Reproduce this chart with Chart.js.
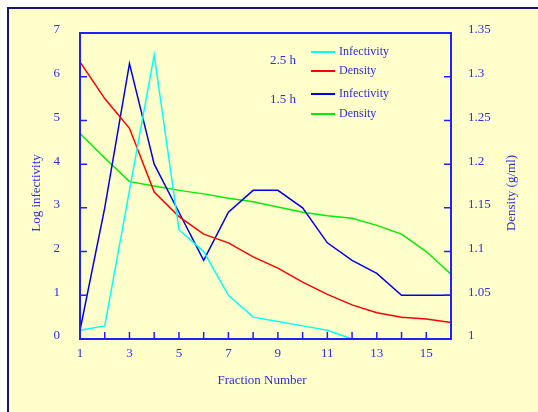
<!DOCTYPE html>
<html>
<head>
<meta charset="utf-8">
<script src="https://cdn.jsdelivr.net/npm/chart.js@4.4.1/dist/chart.umd.min.js"></script>
<style>
  html, body { margin: 0; padding: 0; background: #ffffff; overflow: hidden; }
  #frame {
    position: absolute; left: 7px; top: 7px; width: 560px; height: 440px;
    border-left: 2px solid #14147a; border-top: 2px solid #14147a;
    background: #ffffcc;
  }
  #wrap { position: absolute; left: 0; top: 0; width: 538px; height: 412px; }
</style>
</head>
<body>
<div id="frame"></div>
<div id="wrap"><canvas id="chart"></canvas></div>
<script>
const fractions = [1, 2, 3, 4, 5, 6, 7, 8, 9, 10, 11, 12, 13, 14, 15, 16]

// log infectivity (left axis)
const infectivity25 = [0.2, 0.3, 3.4, 6.5, 2.5, 2.0, 1.0, 0.5, 0.4, 0.3, 0.2, 0, 0, 0, 0, 0]
const infectivity15 = [0.2, 3.0, 6.3, 4.0, 2.9, 1.8, 2.9, 3.4, 3.4, 3.0, 2.2, 1.8, 1.5, 1.0, 1.0, 1.0]

// density g/ml (right axis)
const density25 = [1.317, 1.275, 1.241, 1.168, 1.14, 1.12, 1.11, 1.094, 1.081, 1.065, 1.051, 1.039, 1.03, 1.025, 1.023, 1.019]
const density15 = [1.235, 1.207, 1.18, 1.175, 1.17, 1.166, 1.161, 1.157, 1.151, 1.145, 1.141, 1.138, 1.13, 1.12, 1.1, 1.074]

const groupLabels = ['2.5 h', '1.5 h']
const xTitle = 'Fraction Number'
const yTitle = 'Log infectivity'
const y1Title = 'Density (g/ml)'

const textColor = '#2e2ee6'
const axisColor = '#2020ff'
const serif = "'Liberation Serif', 'Times New Roman', serif"

// ticks inside, frame, titles and the grouped legend
const decorPlugin = {
  id: 'decor',
  afterDatasetsDraw(chart) {
    const { ctx, chartArea: a, scales } = chart
    ctx.save()
    ctx.strokeStyle = axisColor
    ctx.lineWidth = 2
    ctx.strokeRect(a.left, a.top, a.right - a.left, a.bottom - a.top)

    ctx.lineWidth = 1.5
    ctx.beginPath()
    scales.x.ticks.forEach(t => {
      const px = scales.x.getPixelForValue(t.value)
      ctx.moveTo(px, a.bottom); ctx.lineTo(px, a.bottom - 7)
    })
    scales.y.ticks.forEach(t => {
      const py = scales.y.getPixelForValue(t.value)
      ctx.moveTo(a.left, py); ctx.lineTo(a.left + 7, py)
    })
    scales.y1.ticks.forEach(t => {
      const py = scales.y1.getPixelForValue(t.value)
      ctx.moveTo(a.right, py); ctx.lineTo(a.right - 7, py)
    })
    ctx.stroke()

    // axis titles
    ctx.fillStyle = textColor
    ctx.font = '13px ' + serif
    ctx.textAlign = 'center'
    ctx.textBaseline = 'middle'
    ctx.fillText(xTitle, 262, 381)
    ctx.save()
    ctx.translate(37, 193); ctx.rotate(-Math.PI / 2)
    ctx.fillText(yTitle, 0, 0)
    ctx.restore()
    ctx.save()
    ctx.translate(512, 193); ctx.rotate(-Math.PI / 2)
    ctx.fillText(y1Title, 0, 0)
    ctx.restore()

    // legend
    const rows = [52, 71, 94, 114]
    ctx.textAlign = 'left'
    ctx.font = '12px ' + serif
    chart.data.datasets.forEach((ds, i) => {
      ctx.strokeStyle = ds.borderColor
      ctx.lineWidth = 2
      ctx.beginPath()
      ctx.moveTo(311, rows[i]); ctx.lineTo(335, rows[i])
      ctx.stroke()
      ctx.fillText(ds.label, 339, rows[i])
    })
    ctx.font = '13px ' + serif
    ctx.textAlign = 'right'
    ctx.fillText(groupLabels[0], 296, 61)
    ctx.fillText(groupLabels[1], 296, 100)
    ctx.restore()
  }
}

const tickFont = { family: serif, size: 13 }

new Chart(document.getElementById('chart'), {
  type: 'line',
  data: {
    labels: fractions,
    datasets: [
      { label: 'Infectivity', data: infectivity25, borderColor: '#00ffff', yAxisID: 'y' },
      { label: 'Density', data: density25, borderColor: '#ff0000', yAxisID: 'y1' },
      { label: 'Infectivity', data: infectivity15, borderColor: '#0000ee', yAxisID: 'y' },
      { label: 'Density', data: density15, borderColor: '#00ee00', yAxisID: 'y1' },
    ],
  },
  options: {
    responsive: true,
    maintainAspectRatio: false,
    animation: false,
    layout: { padding: { top: 33, left: 0, right: 0, bottom: 0 } },
    elements: {
      line: { borderWidth: 1.5, tension: 0 },
      point: { radius: 0 },
    },
    plugins: {
      legend: { display: false },
      tooltip: { enabled: false },
    },
    scales: {
      x: {
        type: 'linear',
        min: 1,
        max: 16,
        grid: { display: false },
        border: { display: false },
        afterFit(scale) { scale.height = 73 },
        ticks: {
          stepSize: 1,
          padding: -1,
          color: textColor,
          font: tickFont,
          maxRotation: 0,
          autoSkip: false,
          callback: v => (v % 2 === 1 ? String(v) : ''),
        },
      },
      y: {
        position: 'left',
        min: 0,
        max: 7,
        grid: { display: false },
        border: { display: false },
        afterFit(scale) { scale.width = 80 },
        ticks: { stepSize: 1, padding: 12, labelOffset: -3, color: textColor, font: tickFont },
      },
      y1: {
        position: 'right',
        min: 1,
        max: 1.35,
        grid: { display: false },
        border: { display: false },
        afterFit(scale) { scale.width = 87 },
        ticks: {
          stepSize: 0.05,
          padding: 9,
          labelOffset: -3,
          color: textColor,
          font: tickFont,
          callback: v => String(Math.round(v * 100) / 100),
        },
      },
    },
  },
  plugins: [decorPlugin],
})
</script>
</body>
</html>
